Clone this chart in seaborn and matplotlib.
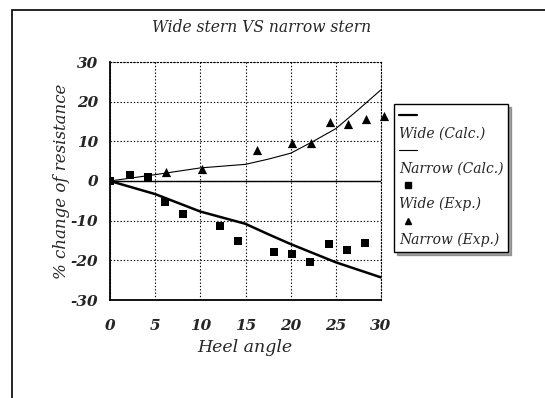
import matplotlib
matplotlib.use("Agg")
import matplotlib.pyplot as plt
import seaborn as sns
import pandas as pd
from matplotlib.lines import Line2D
from matplotlib.patches import Rectangle
from matplotlib.ticker import MultipleLocator

# ---- data ----
calc_angle_wide = [0, 5, 10, 15, 17.5, 20, 25, 30]
calc_wide = [0, -3.3, -7.7, -10.8, -13.4, -15.9, -20.5, -24.3]
calc_angle_narrow = [0, 5, 10, 15, 17.5, 20, 22.5, 25, 27.5, 30]
calc_narrow = [0, 1.6, 3.3, 4.2, 5.5, 7.0, 10.0, 13.2, 18.0, 23.0]

exp_angle_wide = [0, 2.2, 4.2, 6.1, 8.1, 12.2, 14.2, 18.2, 20.2, 22.1, 24.2, 26.2, 28.2]
exp_wide = [0, 1.5, 1.1, -5.4, -8.4, -11.3, -15.1, -17.9, -18.4, -20.3, -16.0, -17.3, -15.7]
exp_angle_narrow = [6.2, 10.2, 16.3, 20.2, 22.3, 24.3, 26.3, 28.3, 30.3]
exp_narrow = [2.2, 3.1, 7.8, 9.7, 9.5, 15.0, 14.3, 15.7, 16.4]

legend_labels = ["Wide (Calc.)", "Narrow (Calc.)", "Wide (Exp.)", "Narrow (Exp.)"]
title = "Wide stern VS narrow stern"
xlabel = "Heel angle"
ylabel = "% change of resistance"

sns.set_style("white")
plt.rcParams["font.family"] = ["DejaVu Serif"]
plt.rcParams["font.style"] = "italic"
plt.rcParams["axes.unicode_minus"] = False

fig = plt.figure(figsize=(5.45, 3.98), dpi=100)
ax = fig.add_axes([110 / 545, 1 - 300 / 398, 271 / 545, 238 / 398])

# outer frame
fig.patches.append(Rectangle((12 / 545, -0.1), 1.2, 1 - 10 / 398 + 0.1,
                             transform=fig.transFigure, fill=False,
                             edgecolor="black", linewidth=1.2))

df_wc = pd.DataFrame({"x": calc_angle_wide, "y": calc_wide})
df_nc = pd.DataFrame({"x": calc_angle_narrow, "y": calc_narrow})
df_we = pd.DataFrame({"x": exp_angle_wide, "y": exp_wide})
df_ne = pd.DataFrame({"x": exp_angle_narrow, "y": exp_narrow})

ax.axhline(0, color="black", linewidth=1.0, zorder=2)
sns.lineplot(data=df_wc, x="x", y="y", ax=ax, color="black", linewidth=1.8, zorder=3)
sns.lineplot(data=df_nc, x="x", y="y", ax=ax, color="black", linewidth=0.8, zorder=3)
sns.scatterplot(data=df_we, x="x", y="y", ax=ax, marker="s", color="black", s=40,
                edgecolor="black", linewidth=0, zorder=4)
sns.scatterplot(data=df_ne, x="x", y="y", ax=ax, marker="^", color="black", s=44,
                edgecolor="black", linewidth=0, zorder=4, clip_on=False)

ax.set_xlim(0, 30)
ax.set_ylim(-30, 30)
ax.xaxis.set_major_locator(MultipleLocator(5))
ax.xaxis.set_minor_locator(MultipleLocator(2.5))
ax.yaxis.set_major_locator(MultipleLocator(10))
ax.yaxis.set_minor_locator(MultipleLocator(5))
ax.grid(True, which="major", color="black", linestyle=(0, (1.2, 1.8)), linewidth=0.8)
ax.tick_params(which="major", direction="inout", length=7, width=1, color="black",
               labelsize=11)
ax.tick_params(axis="x", which="major", pad=10)
ax.tick_params(axis="y", which="major", pad=5)
ax.tick_params(which="minor", direction="inout", length=4, width=1, color="black")
for lab in ax.get_xticklabels() + ax.get_yticklabels():
    lab.set_fontweight("bold")
    lab.set_fontstyle("italic")
for side in ["left", "bottom"]:
    ax.spines[side].set_color("black")
    ax.spines[side].set_linewidth(1.3)
for side in ["top", "right"]:
    ax.spines[side].set_color("black")
    ax.spines[side].set_linewidth(0.8)
    ax.spines[side].set_linestyle((0, (1.2, 1.8)))

ax.set_xlabel(xlabel, fontsize=12.5, style="italic")
ax.set_ylabel(ylabel, fontsize=12, style="italic")
ax.xaxis.set_label_coords((245 - 110) / 271, (300 - 347) / 238)
ax.yaxis.set_label_coords((62 - 110) / 271, 0.5)
ax.xaxis.label.set_va("center")
ax.yaxis.label.set_va("center")
fig.text(262 / 545, 1 - 27 / 398, title, ha="center", va="center", fontsize=11.2,
         style="italic", fontweight="medium")

# legend: handle on one row, label on the next
blank = Line2D([], [], linestyle="none")
h_wc = Line2D([], [], color="black", linewidth=1.6)
h_nc = Line2D([], [], color="black", linewidth=0.8)
h_we = Line2D([], [], color="black", marker="s", linestyle="none", markersize=5)
h_ne = Line2D([], [], color="black", marker="^", linestyle="none", markersize=5)
handles = [h_wc, blank, h_nc, blank, h_we, blank, h_ne, blank]
labels = ["", legend_labels[0], "", legend_labels[1], "", legend_labels[2], "", legend_labels[3]]
leg = fig.legend(handles, labels, loc="upper left", bbox_to_anchor=(394 / 545, 1 - 104 / 398),
                 frameon=True, fancybox=False, shadow=True, handlelength=1.3,
                 handletextpad=-1.3, labelspacing=0.26, borderpad=0.35,
                 prop={"family": "DejaVu Serif", "style": "italic", "size": 10},
                 borderaxespad=0)
leg.get_frame().set_edgecolor("black")
leg.get_frame().set_linewidth(1.0)

fig.savefig("out.png", dpi=100)
